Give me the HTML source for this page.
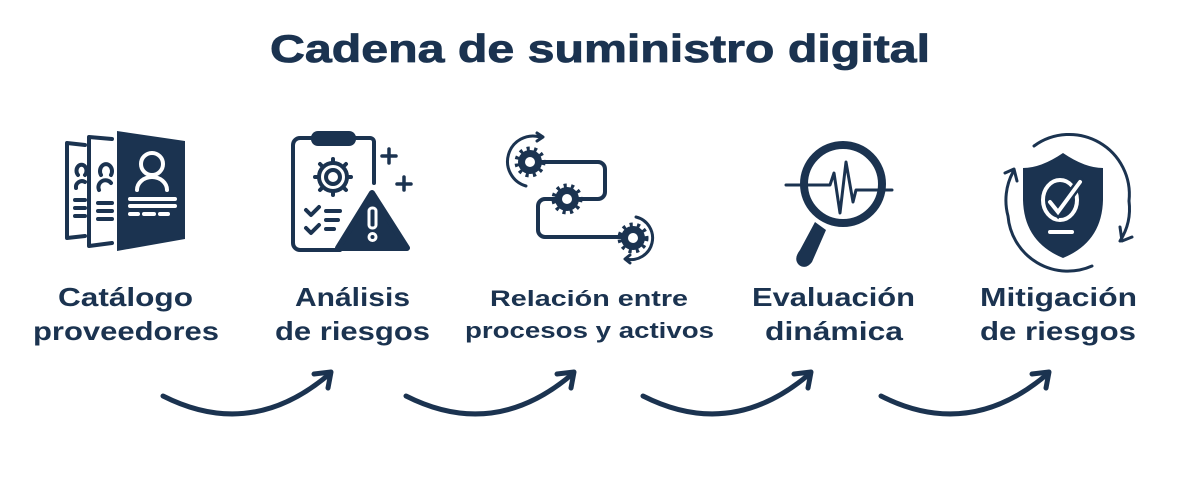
<!DOCTYPE html>
<html><head><meta charset="utf-8"><style>
html,body{margin:0;padding:0;background:#fff;}
svg{display:block;}
text{font-family:"Liberation Sans",sans-serif;font-weight:bold;fill:#1b3350;}
</style></head><body>
<svg width="1200" height="480" viewBox="0 0 1200 480">
<text x="600" y="62" font-size="39" text-anchor="middle" textLength="660" lengthAdjust="spacingAndGlyphs" stroke="#1b3350" stroke-width="0.8">Cadena de suministro digital</text>

<g fill="none" stroke="#1b3350" stroke-width="4" stroke-linecap="round" stroke-linejoin="round">
 <path d="M67 143 L85 145 M67 143 L67 238 L85 236"/>
 <path d="M89 137 L112 139 M89 137 L89 246 L112 243"/>
 <path d="M78 175 a5 6 0 1 1 7 0 M76 188 a6 6 0 0 1 9 -6 M75 200 h10 M75 208 h10 M75 216 h10"/>
 <path d="M101 175 a6 7 0 1 1 10 0 M99 190 a7 7 0 0 1 12 -7 M98 203 h14 M98 211 h14 M98 219 h14"/>
</g>
<polygon points="117,131 185,141 185,239 117,251" fill="#1b3350"/>
<g fill="none" stroke="#fff" stroke-width="4" stroke-linecap="round">
 <circle cx="152" cy="164" r="11"/>
 <path d="M137 190 a15 13 0 0 1 30 0"/>
 <path d="M130 199 h45 M130 206 h45"/>
 <path d="M130 214 h8 M144 214 h10 M160 214 h8"/>
</g>

<g fill="none" stroke="#1b3350" stroke-width="4" stroke-linecap="round" stroke-linejoin="round">
 <path d="M340 250 H300 a7 7 0 0 1 -7 -7 V145 a7 7 0 0 1 7 -7 H370 a4 4 0 0 1 4 4 V183"/>
 <circle cx="333" cy="177" r="7"/>
 <path d="M333 162 v-3 M333 195 v-3 M318 177 h-3 M351 177 h-3 M322 166 l-2 -2 M346 190 l-2 -2 M322 188 l-2 2 M346 164 l-2 2"/>
 <circle cx="333" cy="177" r="14"/>
 <path d="M306 210 l5 5 l8 -8 M306 228 l5 5 l8 -8 M326 211 h14 M326 220 h12 M326 229 h8"/>
 <path d="M389 149 v14 M382 156 h14 M404 177 v13 M397 184 h14" stroke-width="3.5"/>
</g>
<rect x="311" y="131" width="45" height="15" rx="7" fill="#1b3350"/>
<path d="M372 193 L407 248 L338 248 Z" fill="#1b3350" stroke="#1b3350" stroke-width="6" stroke-linejoin="round"/>
<rect x="369" y="208" width="7" height="20" rx="3" fill="none" stroke="#fff" stroke-width="3"/>
<circle cx="372.5" cy="237" r="3.5" fill="none" stroke="#fff" stroke-width="3"/>

<g fill="none" stroke="#1b3350" stroke-width="4" stroke-linecap="round" stroke-linejoin="round">
 <path d="M535 162 H598 a7 7 0 0 1 7 7 V192 a7 7 0 0 1 -7 7 H545 a7 7 0 0 0 -7 7 V230 a7 7 0 0 0 7 7 H625"/>
 <path d="M526 186 a20 20 0 0 1 14 -49" stroke-width="3"/>
 <path d="M537 133 l6 4 l-6 4" stroke-width="3"/>
 <path d="M636 217 a20 20 0 0 1 -10 42" stroke-width="3"/>
 <path d="M630 255 l-5 4 l5 4" stroke-width="3"/>
</g>
<g fill="#1b3350">
 <circle cx="530" cy="162" r="12"/><circle cx="567" cy="199" r="12"/><circle cx="633" cy="238" r="12"/>
 <g stroke="#1b3350" stroke-width="5" stroke-dasharray="3 4.2">
  <circle cx="530" cy="162" r="13" fill="none"/><circle cx="567" cy="199" r="13" fill="none"/><circle cx="633" cy="238" r="13" fill="none"/>
 </g>
</g>
<g fill="#fff"><circle cx="530" cy="162" r="5"/><circle cx="567" cy="199" r="5"/><circle cx="633" cy="238" r="5"/></g>

<g fill="none" stroke="#1b3350" stroke-linecap="round" stroke-linejoin="round">
 <circle cx="843" cy="184" r="39" stroke-width="8"/>
 <path d="M786 185 H830 l4 -12 l6 40 l6 -51 l7 40 l3 -12 H892" stroke-width="3"/>
</g>
<path d="M815 222 L826 230 L812 262 Q806 270 799 265 Q793 259 800 250 Z" fill="#1b3350"/>

<g fill="none" stroke="#1b3350" stroke-width="3" stroke-linecap="round" stroke-linejoin="round">
 <path d="M1034 146 a60 60 0 0 1 95 55 a60 60 0 0 1 -9 40"/>
 <path d="M1120 227 l2 14 l10 -4"/>
 <path d="M1092 266 a60 60 0 0 1 -84 -50 a60 60 0 0 1 5 -44"/>
 <path d="M1005 173 l9 -4 l3 12"/>
</g>
<path d="M1063 153 Q1085 168 1103 168 L1103 200 Q1102 242 1063 258 Q1024 242 1023 200 L1023 168 Q1041 168 1063 153 Z" fill="#1b3350"/>
<ellipse cx="1060" cy="200" rx="17" ry="20" fill="none" stroke="#fff" stroke-width="4"/>
<path d="M1050 202 l8 10 l22 -30" fill="none" stroke="#1b3350" stroke-width="9" stroke-linecap="round"/>
<path d="M1050 202 l8 10 l22 -30" fill="none" stroke="#fff" stroke-width="4" stroke-linecap="round"/>
<rect x="1048" y="230" width="26" height="4" rx="2" fill="#fff"/>

<g font-size="26" lengthAdjust="spacingAndGlyphs">
 <text x="58" y="306" textLength="135" lengthAdjust="spacingAndGlyphs">Catálogo</text>
 <text x="33" y="340" textLength="186" lengthAdjust="spacingAndGlyphs">proveedores</text>
 <text x="295" y="306" textLength="115" lengthAdjust="spacingAndGlyphs">Análisis</text>
 <text x="275" y="340" textLength="155" lengthAdjust="spacingAndGlyphs">de riesgos</text>
 <text x="752" y="306" textLength="163" lengthAdjust="spacingAndGlyphs">Evaluación</text>
 <text x="765" y="340" textLength="138" lengthAdjust="spacingAndGlyphs">dinámica</text>
 <text x="980" y="306" textLength="157" lengthAdjust="spacingAndGlyphs">Mitigación</text>
 <text x="980" y="340" textLength="156" lengthAdjust="spacingAndGlyphs">de riesgos</text>
</g>
<g font-size="22">
 <text x="490" y="306" textLength="198" lengthAdjust="spacingAndGlyphs">Relación entre</text>
 <text x="465" y="338" textLength="249" lengthAdjust="spacingAndGlyphs">procesos y activos</text>
</g>

<g fill="none" stroke="#1b3350" stroke-width="5" stroke-linecap="round" stroke-linejoin="round">
 <g id="ar">
  <path d="M163 396 Q250 440 327 376"/>
  <path d="M314 374 L331 372 L328 388"/>
 </g>
 <use href="#ar" x="243"/>
 <use href="#ar" x="480"/>
 <use href="#ar" x="718"/>
</g>
</svg>
</body></html>
